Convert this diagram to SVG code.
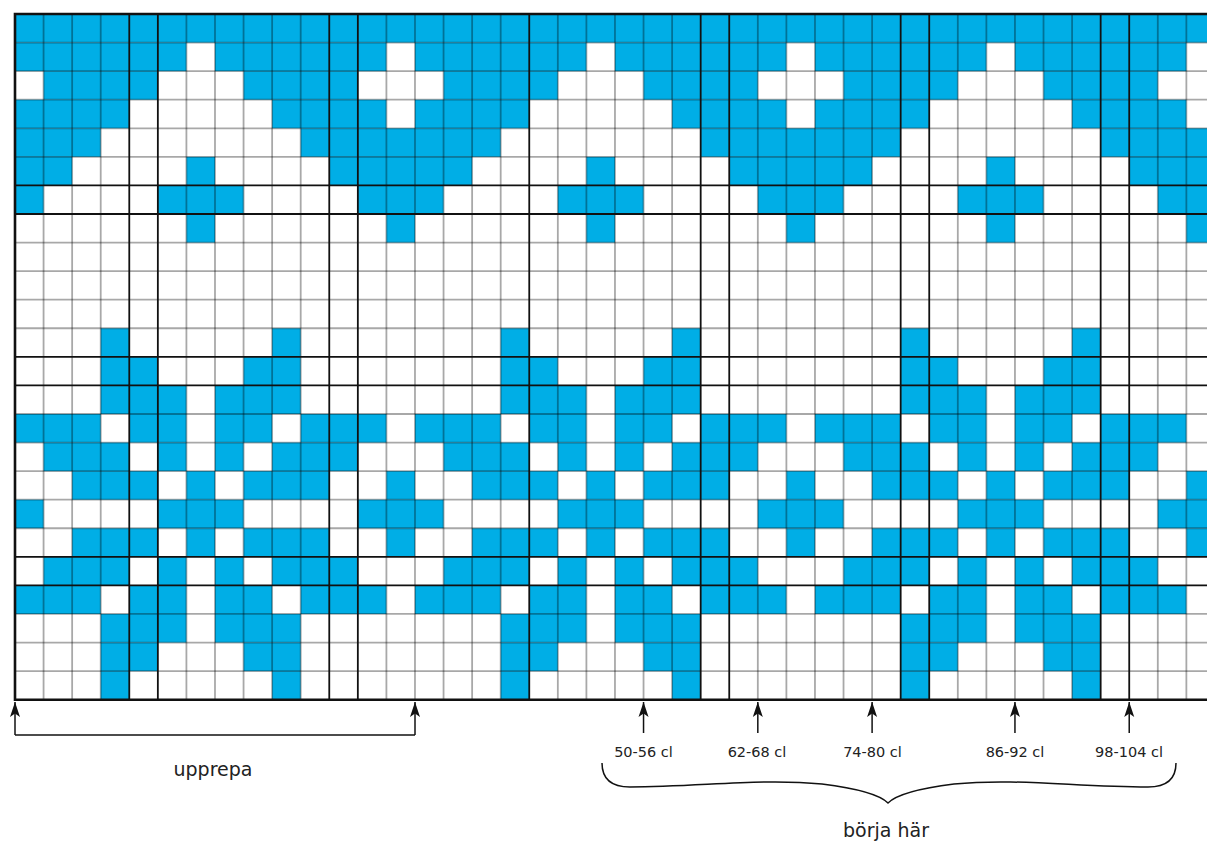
<svg xmlns="http://www.w3.org/2000/svg" xmlns:xlink="http://www.w3.org/1999/xlink" width="1207" height="846" viewBox="0 0 1207 846">
<style>
.b{fill:#00aee6}
.thin{stroke:#000;stroke-opacity:0.34;stroke-width:1.8;fill:none}
.dark{stroke:#111;stroke-width:1.8;fill:none}
.border{stroke:#111;stroke-width:2.6;fill:none}
.conn{stroke:#111;stroke-width:1.5;fill:none}
.lbl{font-family:"DejaVu Sans","Liberation Sans",sans-serif;fill:#222;text-anchor:middle}
</style>
<defs>
<marker id="ah" markerUnits="userSpaceOnUse" markerWidth="16" markerHeight="12" refX="15" refY="5.5" orient="auto">
<path d="M0,0.5 L15,5.5 L0,10.5 L3.5,5.5 z" fill="#111"/>
</marker>
<g id="rep">
<rect class="b" x="0" y="0" width="399.98" height="28.57"/>
<rect class="b" x="0" y="28.57" width="171.42" height="28.57"/>
<rect class="b" x="199.99" y="28.57" width="171.42" height="28.57"/>
<rect class="b" x="28.57" y="57.14" width="114.28" height="28.57"/>
<rect class="b" x="228.56" y="57.14" width="114.28" height="28.57"/>
<rect class="b" x="0" y="85.71" width="114.28" height="28.57"/>
<rect class="b" x="257.13" y="85.71" width="114.28" height="28.57"/>
<rect class="b" x="0" y="114.28" width="85.71" height="28.57"/>
<rect class="b" x="285.7" y="114.28" width="114.28" height="28.57"/>
<rect class="b" x="0" y="142.85" width="57.14" height="28.57"/>
<rect class="b" x="171.42" y="142.85" width="28.57" height="28.57"/>
<rect class="b" x="314.27" y="142.85" width="85.71" height="28.57"/>
<rect class="b" x="0" y="171.42" width="28.57" height="28.57"/>
<rect class="b" x="142.85" y="171.42" width="85.71" height="28.57"/>
<rect class="b" x="342.84" y="171.42" width="57.14" height="28.57"/>
<rect class="b" x="171.42" y="199.99" width="28.57" height="28.57"/>
<rect class="b" x="371.41" y="199.99" width="28.57" height="28.57"/>
<rect class="b" x="85.71" y="314.27" width="28.57" height="28.57"/>
<rect class="b" x="257.13" y="314.27" width="28.57" height="28.57"/>
<rect class="b" x="85.71" y="342.84" width="57.14" height="28.57"/>
<rect class="b" x="228.56" y="342.84" width="57.14" height="28.57"/>
<rect class="b" x="85.71" y="371.41" width="85.71" height="28.57"/>
<rect class="b" x="199.99" y="371.41" width="85.71" height="28.57"/>
<rect class="b" x="0" y="399.98" width="85.71" height="28.57"/>
<rect class="b" x="114.28" y="399.98" width="57.14" height="28.57"/>
<rect class="b" x="199.99" y="399.98" width="57.14" height="28.57"/>
<rect class="b" x="285.7" y="399.98" width="85.71" height="28.57"/>
<rect class="b" x="28.57" y="428.55" width="85.71" height="28.57"/>
<rect class="b" x="142.85" y="428.55" width="28.57" height="28.57"/>
<rect class="b" x="199.99" y="428.55" width="28.57" height="28.57"/>
<rect class="b" x="257.13" y="428.55" width="85.71" height="28.57"/>
<rect class="b" x="57.14" y="457.12" width="85.71" height="28.57"/>
<rect class="b" x="171.42" y="457.12" width="28.57" height="28.57"/>
<rect class="b" x="228.56" y="457.12" width="85.71" height="28.57"/>
<rect class="b" x="371.41" y="457.12" width="28.57" height="28.57"/>
<rect class="b" x="0" y="485.69" width="28.57" height="28.57"/>
<rect class="b" x="142.85" y="485.69" width="85.71" height="28.57"/>
<rect class="b" x="342.84" y="485.69" width="57.14" height="28.57"/>
<rect class="b" x="57.14" y="514.26" width="85.71" height="28.57"/>
<rect class="b" x="171.42" y="514.26" width="28.57" height="28.57"/>
<rect class="b" x="228.56" y="514.26" width="85.71" height="28.57"/>
<rect class="b" x="371.41" y="514.26" width="28.57" height="28.57"/>
<rect class="b" x="28.57" y="542.83" width="85.71" height="28.57"/>
<rect class="b" x="142.85" y="542.83" width="28.57" height="28.57"/>
<rect class="b" x="199.99" y="542.83" width="28.57" height="28.57"/>
<rect class="b" x="257.13" y="542.83" width="85.71" height="28.57"/>
<rect class="b" x="0" y="571.4" width="85.71" height="28.57"/>
<rect class="b" x="114.28" y="571.4" width="57.14" height="28.57"/>
<rect class="b" x="199.99" y="571.4" width="57.14" height="28.57"/>
<rect class="b" x="285.7" y="571.4" width="85.71" height="28.57"/>
<rect class="b" x="85.71" y="599.97" width="85.71" height="28.57"/>
<rect class="b" x="199.99" y="599.97" width="85.71" height="28.57"/>
<rect class="b" x="85.71" y="628.54" width="57.14" height="28.57"/>
<rect class="b" x="228.56" y="628.54" width="57.14" height="28.57"/>
<rect class="b" x="85.71" y="657.11" width="28.57" height="28.57"/>
<rect class="b" x="257.13" y="657.11" width="28.57" height="28.57"/>
</g>
</defs>
<rect x="0" y="0" width="1207" height="846" fill="#ffffff"/>
<g id="chart">
<g id="cells" transform="translate(15,14)">
<use xlink:href="#rep" href="#rep"/>
<use xlink:href="#rep" href="#rep" x="399.98"/>
<use xlink:href="#rep" href="#rep" x="799.96"/>
</g>
<g id="gridlines">
<path class="thin" d="M43.57,14V699.68M72.14,14V699.68M100.71,14V699.68M186.42,14V699.68M214.99,14V699.68M243.56,14V699.68M272.13,14V699.68M300.7,14V699.68M386.41,14V699.68M414.98,14V699.68M443.55,14V699.68M472.12,14V699.68M500.69,14V699.68M557.83,14V699.68M586.4,14V699.68M614.97,14V699.68M643.54,14V699.68M672.11,14V699.68M757.82,14V699.68M786.39,14V699.68M814.96,14V699.68M843.53,14V699.68M872.1,14V699.68M957.81,14V699.68M986.38,14V699.68M1014.95,14V699.68M1043.52,14V699.68M1072.09,14V699.68M1157.8,14V699.68M1186.37,14V699.68"/>
<path class="thin" d="M15,42.57H1207M15,71.14H1207M15,99.71H1207M15,128.28H1207M15,156.85H1207M15,242.56H1207M15,271.13H1207M15,299.7H1207M15,328.27H1207M15,413.98H1207M15,442.55H1207M15,471.12H1207M15,499.69H1207M15,528.26H1207M15,613.97H1207M15,642.54H1207M15,671.11H1207"/>
<path class="dark" d="M129.28,14V699.68M157.85,14V699.68M329.27,14V699.68M357.84,14V699.68M529.26,14V699.68M700.68,14V699.68M729.25,14V699.68M900.67,14V699.68M929.24,14V699.68M1100.66,14V699.68M1129.23,14V699.68"/>
<path class="dark" d="M15,185.42H1207M15,213.99H1207M15,356.84H1207M15,385.41H1207M15,556.83H1207M15,585.4H1207"/>
<path class="border" d="M1207,14H15V699.68H1207"/>
</g>
</g>
<g id="connectors">
<path class="conn" d="M15,735V702" marker-end="url(#ah)"/>
<path class="conn" d="M415,735V702" marker-end="url(#ah)"/>
<path class="conn" d="M15,735H415"/>
<path class="conn" d="M643.54,733V702" marker-end="url(#ah)"/>
<path class="conn" d="M757.82,733V702" marker-end="url(#ah)"/>
<path class="conn" d="M872.1,733V702" marker-end="url(#ah)"/>
<path class="conn" d="M1014.95,733V702" marker-end="url(#ah)"/>
<path class="conn" d="M1129.23,733V702" marker-end="url(#ah)"/>
<path id="brace" class="conn" d="M602,763 C602,779 612,787 630,787 C700,787 760,778 822,784 C862,789 880,795 888,803 C896,795 914,789 954,784 C1016,778 1076,787 1148,787 C1166,787 1176,779 1176,763"/>
</g>
<g id="labels">
<text class="lbl" x="213" y="776" font-size="19">upprepa</text>
<text class="lbl" x="643.5" y="757" font-size="14.5">50-56 cl</text>
<text class="lbl" x="757" y="757" font-size="14.5">62-68 cl</text>
<text class="lbl" x="872.5" y="757" font-size="14.5">74-80 cl</text>
<text class="lbl" x="1015" y="757" font-size="14.5">86-92 cl</text>
<text class="lbl" x="1129" y="757" font-size="14.5">98-104 cl</text>
<text class="lbl" x="886" y="837" font-size="19">börja här</text>
</g>
</svg>
